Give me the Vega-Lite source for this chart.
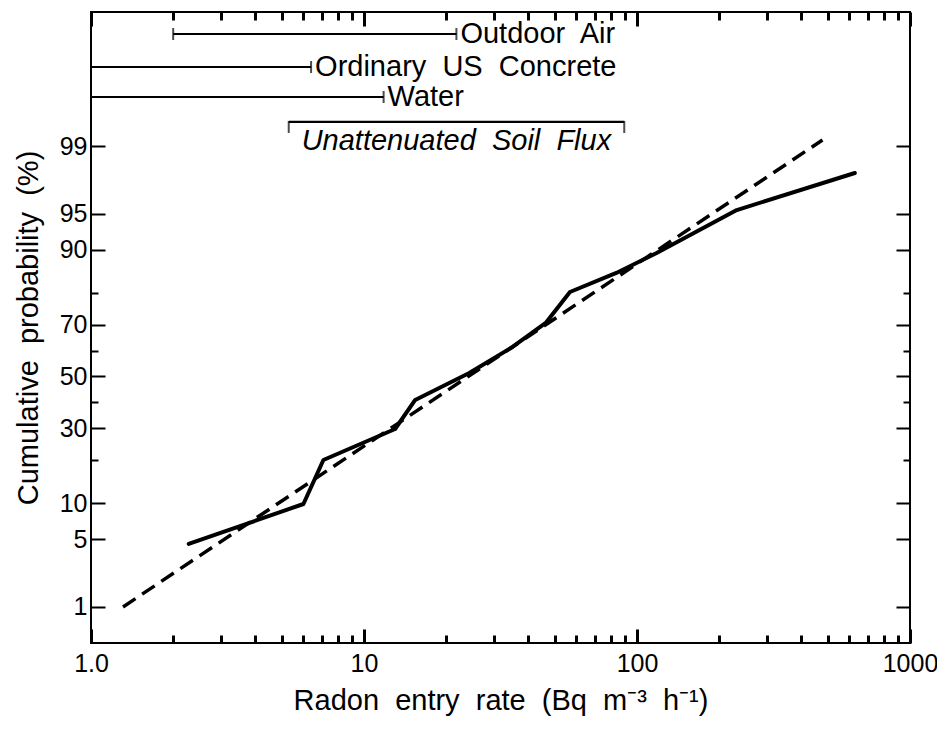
{
  "$schema": "https://vega.github.io/schema/vega-lite/v6.json",
  "autosize": {"type": "none"},
  "width": 819,
  "height": 631,
  "padding": {"left": 91, "top": 12, "right": 27, "bottom": 88},
  "background": "white",
  "datasets": {
    "fit": [
      {"rate": 1.31, "pct": 1.0, "z": -2.326},
      {"rate": 478, "pct": 99.15, "z": 2.387}
    ],
    "observed": [
      {"rate": 2.28, "pct": 4.55, "z": -1.690},
      {"rate": 6.0, "pct": 9.9, "z": -1.287},
      {"rate": 7.1, "pct": 20.0, "z": -0.843},
      {"rate": 13.0, "pct": 29.8, "z": -0.530},
      {"rate": 15.4, "pct": 40.6, "z": -0.237},
      {"rate": 24.3, "pct": 51.4, "z": 0.035},
      {"rate": 35.0, "pct": 61.7, "z": 0.298},
      {"rate": 46.3, "pct": 70.5, "z": 0.540},
      {"rate": 56.8, "pct": 80.3, "z": 0.853},
      {"rate": 84.0, "pct": 85.2, "z": 1.045},
      {"rate": 118.0, "pct": 89.4, "z": 1.246},
      {"rate": 232.0, "pct": 95.4, "z": 1.680},
      {"rate": 628.0, "pct": 98.0, "z": 2.054}
    ],
    "ranges": [
      {"name": "Outdoor\u00a0 Air", "lo": 2.0, "hi": 21.8, "z": 3.457, "side": "right"},
      {"name": "Ordinary\u00a0 US\u00a0 Concrete", "lo": 1.0, "hi": 6.4, "z": 3.124, "side": "right"},
      {"name": "Water", "lo": 1.0, "hi": 11.8, "z": 2.821, "side": "right"},
      {"name": "Unattenuated Soil Flux", "lo": 5.3, "hi": 89.8, "z": 2.569, "side": "below"}
    ],
    "below": [
      {"name": "Unattenuated\u00a0 Soil\u00a0 Flux", "center": 21.8, "z": 2.569}
    ]
  },
  "config": {
    "view": {"stroke": "black", "strokeWidth": 2},
    "axis": {
      "grid": false,
      "domain": false,
      "tickColor": "black",
      "tickWidth": 2,
      "labelColor": "black",
      "labelFont": "Liberation Sans",
      "labelFontSize": 25,
      "titleFont": "Liberation Sans",
      "titleFontSize": 29,
      "titleFontWeight": "normal",
      "titleColor": "black"
    },
    "axisX": {"tickWidth": 3},
    "text": {"font": "Liberation Sans", "color": "black"}
  },
  "resolve": {"axis": {"x": "independent", "y": "independent"}},
  "layer": [
    {
      "data": {"name": "fit"},
      "mark": {"type": "line", "color": "black", "strokeWidth": 3.5, "strokeDash": [15, 8], "clip": true},
      "encoding": {
        "x": {
          "field": "rate", "type": "quantitative",
          "scale": {"type": "log", "domain": [1, 1000], "nice": false},
          "axis": {
            "orient": "bottom", "values": [1, 10, 100, 1000],
            "labelExpr": "datum.value == 1 ? '1.0' : format(datum.value, 'd')",
            "tickSize": -14, "tickWidth": 3,
            "labelPadding": 22, "labelFlush": false, "labelOverlap": false,
            "title": "Radon\u00a0 entry\u00a0 rate\u00a0 (Bq\u00a0 m\u207b\u00b3\u00a0 h\u207b\u00b9)",
            "titlePadding": 10
          }
        },
        "y": {
          "field": "z", "type": "quantitative",
          "scale": {"domain": [-2.690, 3.679], "nice": false, "zero": false},
          "axis": {
            "orient": "left",
            "values": [-2.3263, -1.6449, -1.2816, -0.5244, 0, 0.5244, 1.2816, 1.6449, 2.3263],
            "labelExpr": "format(cumulativeNormal(datum.value) * 100, '.0f')",
            "tickSize": -14, "labelPadding": 18, "labelOverlap": false,
            "title": "Cumulative\u00a0 probability\u00a0 (%)",
            "titlePadding": 16
          }
        }
      }
    },
    {
      "data": {"name": "observed"},
      "mark": {"type": "line", "color": "black", "strokeWidth": 4, "strokeJoin": "round", "strokeCap": "round"},
      "encoding": {
        "x": {
          "field": "rate", "type": "quantitative",
          "axis": {
            "orient": "bottom",
            "values": [2, 3, 4, 5, 6, 7, 8, 9, 20, 30, 40, 50, 60, 70, 80, 90, 200, 300, 400, 500, 600, 700, 800, 900],
            "tickSize": -8, "tickWidth": 3, "labels": false, "title": null
          }
        },
        "y": {
          "field": "z", "type": "quantitative",
          "axis": {
            "orient": "left",
            "values": [-0.8416, -0.2533, 0.2533, 0.8416],
            "tickSize": -7, "labels": false, "title": null
          }
        }
      }
    },
    {
      "data": {"name": "ranges"},
      "mark": {"type": "rule", "color": "black", "strokeWidth": 2.2},
      "encoding": {
        "x": {
          "field": "lo", "type": "quantitative",
          "axis": {
            "orient": "top", "values": [1, 10, 100, 1000],
            "tickSize": -14, "tickWidth": 3, "labels": false, "title": null
          }
        },
        "x2": {"field": "hi"},
        "y": {
          "field": "z", "type": "quantitative",
          "axis": {
            "orient": "right",
            "values": [-2.3263, -1.6449, -1.2816, -0.5244, 0, 0.5244, 1.2816, 1.6449, 2.3263],
            "tickSize": -14, "labels": false, "title": null
          }
        }
      }
    },
    {
      "data": {"name": "ranges"},
      "transform": [{"filter": "datum.side == 'right'"}],
      "mark": {"type": "tick", "orient": "vertical", "color": "black", "size": 12, "thickness": 2},
      "encoding": {
        "x": {
          "field": "hi", "type": "quantitative",
          "axis": {
            "orient": "top",
            "values": [2, 3, 4, 5, 6, 7, 8, 9, 20, 30, 40, 50, 60, 70, 80, 90, 200, 300, 400, 500, 600, 700, 800, 900],
            "tickSize": -8, "tickWidth": 3, "labels": false, "title": null
          }
        },
        "y": {
          "field": "z", "type": "quantitative",
          "axis": {
            "orient": "right",
            "values": [-0.8416, -0.2533, 0.2533, 0.8416],
            "tickSize": -7, "labels": false, "title": null
          }
        }
      }
    },
    {
      "data": {"name": "ranges"},
      "transform": [{"filter": "datum.side == 'right' && datum.lo > 1"}],
      "mark": {"type": "tick", "orient": "vertical", "color": "black", "size": 12, "thickness": 2},
      "encoding": {
        "x": {"field": "lo", "type": "quantitative", "axis": null},
        "y": {"field": "z", "type": "quantitative", "axis": null}
      }
    },
    {
      "data": {"name": "ranges"},
      "transform": [{"filter": "datum.side == 'below'"}],
      "mark": {"type": "tick", "orient": "vertical", "color": "black", "size": 12, "thickness": 2, "yOffset": 5},
      "encoding": {
        "x": {"field": "lo", "type": "quantitative", "axis": null},
        "y": {"field": "z", "type": "quantitative", "axis": null}
      }
    },
    {
      "data": {"name": "ranges"},
      "transform": [{"filter": "datum.side == 'below'"}],
      "mark": {"type": "tick", "orient": "vertical", "color": "black", "size": 12, "thickness": 2, "yOffset": 5},
      "encoding": {
        "x": {"field": "hi", "type": "quantitative", "axis": null},
        "y": {"field": "z", "type": "quantitative", "axis": null}
      }
    },
    {
      "data": {"name": "ranges"},
      "transform": [{"filter": "datum.side == 'right'"}],
      "mark": {"type": "text", "align": "left", "baseline": "middle", "dx": 4, "fontSize": 29},
      "encoding": {
        "x": {"field": "hi", "type": "quantitative", "axis": null},
        "y": {"field": "z", "type": "quantitative", "axis": null},
        "text": {"field": "name"}
      }
    },
    {
      "data": {"name": "below"},
      "mark": {"type": "text", "align": "center", "baseline": "middle", "dy": 19, "fontSize": 29, "fontStyle": "italic"},
      "encoding": {
        "x": {"field": "center", "type": "quantitative", "axis": null},
        "y": {"field": "z", "type": "quantitative", "axis": null},
        "text": {"field": "name"}
      }
    }
  ]
}
